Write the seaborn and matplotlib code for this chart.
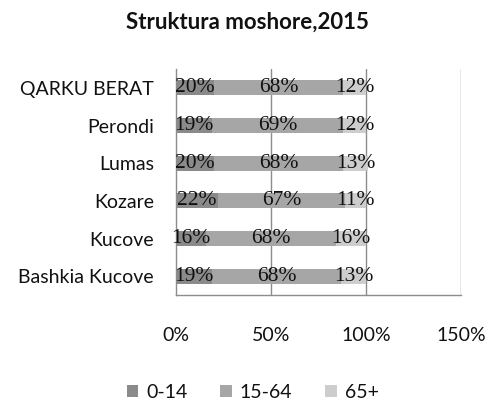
import numpy as np
import pandas as pd
import matplotlib
matplotlib.use("Agg")
import matplotlib.pyplot as plt
import seaborn as sns
from matplotlib.patches import Patch

# data (percent of population by age group)
areas = ["QARKU BERAT", "Perondi", "Lumas", "Kozare", "Kucove", "Bashkia Kucove"]
age_0_14 = [20, 19, 20, 22, 16, 19]
age_15_64 = [68, 69, 68, 67, 68, 68]
age_65p = [12, 12, 13, 11, 16, 13]
groups = ["0-14", "15-64", "65+"]
xticks = [0, 50, 100, 150]

colors = ["#8a8a8a", "#a6a6a6", "#cdcdcd"]

sns.set_style("white")
plt.rcParams["font.family"] = ["Lato", "DejaVu Sans"]

df = pd.DataFrame({"area": areas, "a": age_0_14, "b": age_15_64, "c": age_65p})
df["ab"] = df["a"] + df["b"]
df["abc"] = df["ab"] + df["c"]

fig = plt.figure(figsize=(4.88, 4.05), dpi=100)
ax = fig.add_axes([0.3607, 0.2716, 0.584, 0.558])

# stacked bars drawn as overlapping cumulative totals
for col, c in zip(["abc", "ab", "a"], colors[::-1]):
    sns.barplot(data=df, x=col, y="area", orient="h", color=c,
                width=0.4, saturation=1, ax=ax, edgecolor="none")

# segment labels
for i, row in df.iterrows():
    starts = [0, row["a"], row["ab"]]
    vals = [row["a"], row["b"], row["c"]]
    for s, v in zip(starts, vals):
        ax.text(s + v / 2, i, f"{v}%", ha="center", va="center",
                fontsize=15.5, family="Liberation Serif", color="#111111")

ax.set_xlim(0, 150)
ax.set_ylim(len(areas) - 0.5, -0.5)
ax.set_xticks(xticks)
ax.set_xticklabels([f"{t}%" for t in xticks])
ax.set_xlabel("")
ax.set_ylabel("")
for t in xticks[1:]:
    ax.axvline(t, color="#8c8c8c", lw=1, zorder=0)
for s in ["top", "right"]:
    ax.spines[s].set_visible(False)
for s in ["left", "bottom"]:
    ax.spines[s].set_color("#8c8c8c")
    ax.spines[s].set_linewidth(1)
ax.tick_params(axis="x", length=0, pad=23, labelsize=14, labelcolor="#111111")
ax.tick_params(axis="y", length=0, pad=16, labelsize=14, labelcolor="#111111")

fig.text(0.508, 0.945, "Struktura moshore,2015", ha="center", va="center",
         fontsize=16, fontweight="bold", color="#111111")

handles = [Patch(facecolor=c, edgecolor="none") for c in colors]
fig.legend(handles, groups, loc="center", bbox_to_anchor=(0.518, 0.032),
           ncol=3, frameon=False, fontsize=14, handlelength=0.6,
           handleheight=0.6, handletextpad=0.4, columnspacing=1.7,
           labelcolor="#111111")

fig.savefig("out.png", dpi=100)
plt.close(fig)
